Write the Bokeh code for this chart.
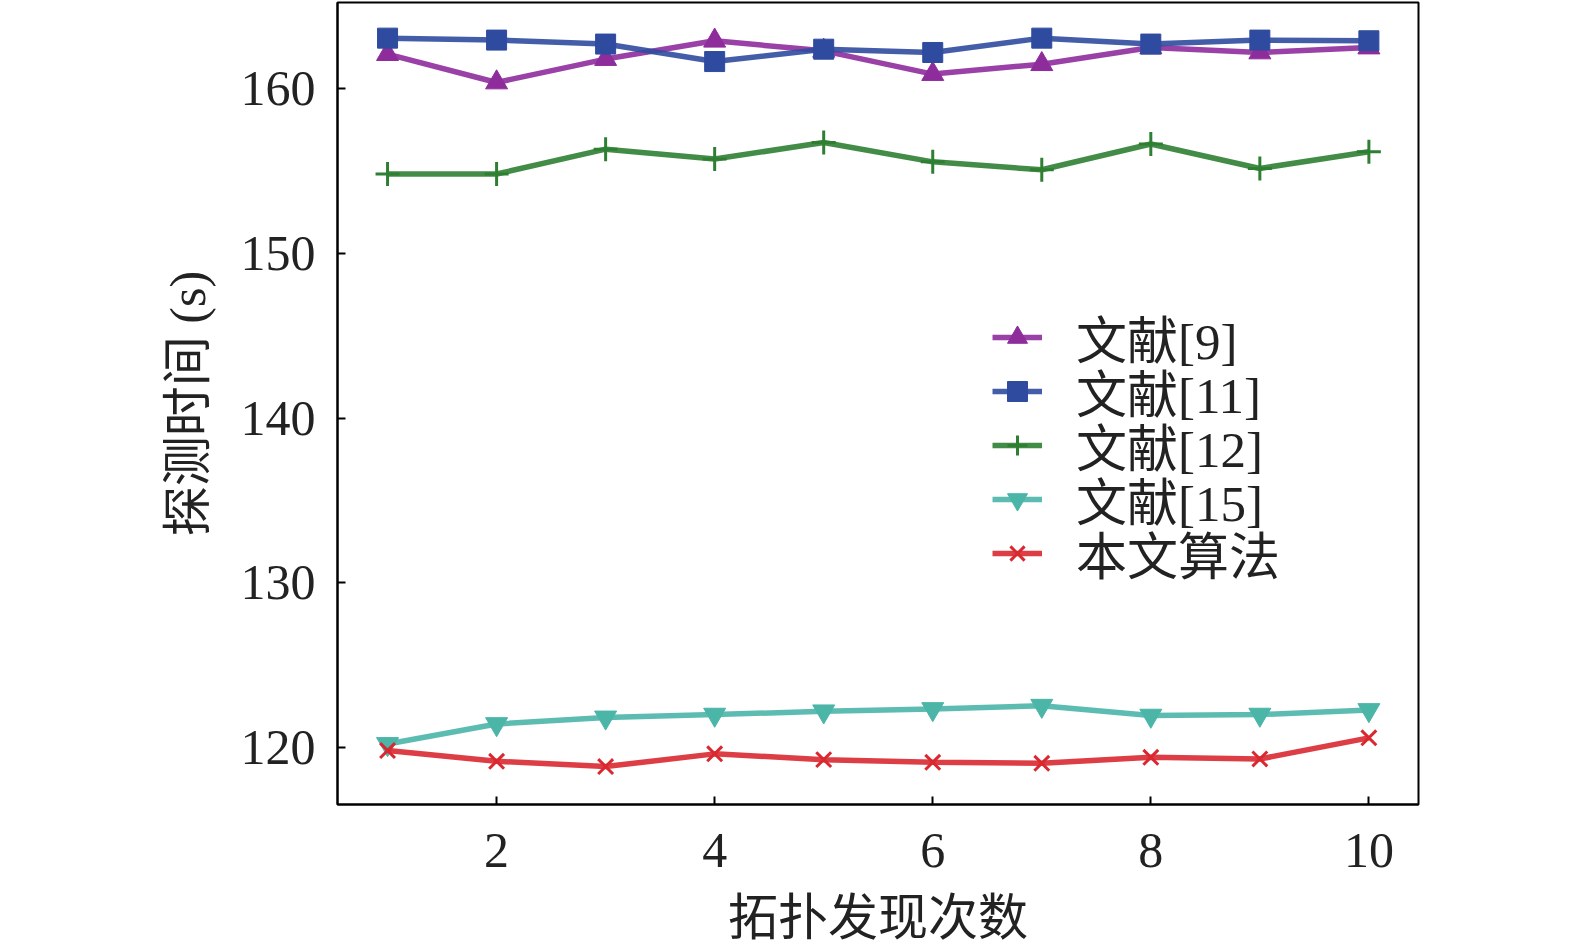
from bokeh.plotting import figure
from bokeh.models import Range1d, FixedTicker, Legend, LegendItem
from bokeh.embed import file_html
from bokeh.resources import INLINE

runs = [1, 2, 3, 4, 5, 6, 7, 8, 9, 10]
ref9 = [162.06, 160.34, 161.76, 162.87, 162.26, 160.85, 161.45, 162.46, 162.16, 162.46]
ref11 = [163.03, 162.91, 162.67, 161.61, 162.36, 162.16, 163.03, 162.67, 162.91, 162.87]
ref12 = [154.79, 154.79, 156.30, 155.70, 156.70, 155.53, 155.05, 156.61, 155.13, 156.14]
ref15 = [120.24, 121.45, 121.85, 122.02, 122.22, 122.36, 122.56, 121.96, 122.02, 122.30]
ours = [119.84, 119.19, 118.87, 119.64, 119.29, 119.13, 119.07, 119.43, 119.33, 120.61]

x_ticks = [2, 4, 6, 8, 10]
y_ticks = [120, 130, 140, 150, 160]

series = [
    ("文献[9]", ref9, "#8E2C9C", "triangle", 22),
    ("文献[11]", ref11, "#2F4B9F", "square", 20),
    ("文献[12]", ref12, "#2F7F33", "cross", 24),
    ("文献[15]", ref15, "#4BB5A8", "inverted_triangle", 22),
    ("本文算法", ours, "#D92830", "x", 21),
]

p = figure(frame_width=1081, frame_height=802,
           min_border_left=337, min_border_right=130,
           min_border_top=2, min_border_bottom=128,
           x_range=Range1d(0.541, 10.455), y_range=Range1d(116.57, 165.19),
           output_backend="svg", toolbar_location=None)

p.xgrid.visible = False
p.ygrid.visible = False
p.background_fill_color = "white"
p.border_fill_color = "white"
p.outline_line_color = "black"
p.outline_line_width = 2

serif = "Liberation Serif"
mixed = "Liberation Serif, Noto Sans CJK SC"

for ax in (p.xaxis[0], p.yaxis[0]):
    ax.axis_line_color = "black"
    ax.axis_line_width = 2
    ax.major_tick_in = 8
    ax.major_tick_out = 0
    ax.major_tick_line_color = "black"
    ax.major_tick_line_width = 2
    ax.minor_tick_line_color = None
    ax.major_label_text_font = serif
    ax.major_label_text_font_size = "50px"
    ax.major_label_text_color = "#222222"
    ax.axis_label_text_font = mixed
    ax.axis_label_text_font_size = "50px"
    ax.axis_label_text_font_style = "normal"
    ax.axis_label_text_color = "#222222"

p.xaxis.ticker = FixedTicker(ticks=x_ticks)
p.yaxis.ticker = FixedTicker(ticks=y_ticks)
p.xaxis.axis_label = "拓扑发现次数"
p.yaxis.axis_label = "探测时间 (s)"
p.xaxis.major_label_standoff = 29
p.yaxis.major_label_standoff = 22
p.xaxis.axis_label_standoff = 20
p.yaxis.axis_label_standoff = 22

n = len(series)
row_step = 54
for i, (name, vals, color, marker, size) in enumerate(series):
    ln = p.line(runs, vals, line_color=color, line_width=5.5, line_alpha=0.9)
    if marker in ("cross", "x"):
        sc = p.scatter(runs, vals, marker=marker, size=size, line_color=color,
                       line_width=3)
    else:
        sc = p.scatter(runs, vals, marker=marker, size=size, fill_color=color,
                       line_color=color, line_width=1)
    lg = Legend(items=[LegendItem(label=name, renderers=[ln, sc])],
                location=(655, 214 + (n - 1 - i) * row_step))
    lg.background_fill_alpha = 0
    lg.border_line_color = None
    lg.padding = 0
    lg.margin = 0
    lg.spacing = 0
    lg.glyph_width = 50
    lg.glyph_height = 54
    lg.label_height = 54
    lg.label_standoff = 34
    lg.label_text_font = mixed
    lg.label_text_font_size = "51px"
    lg.label_text_color = "#222222"
    p.add_layout(lg, "center")

open("out.html", "w").write(file_html(p, INLINE))
